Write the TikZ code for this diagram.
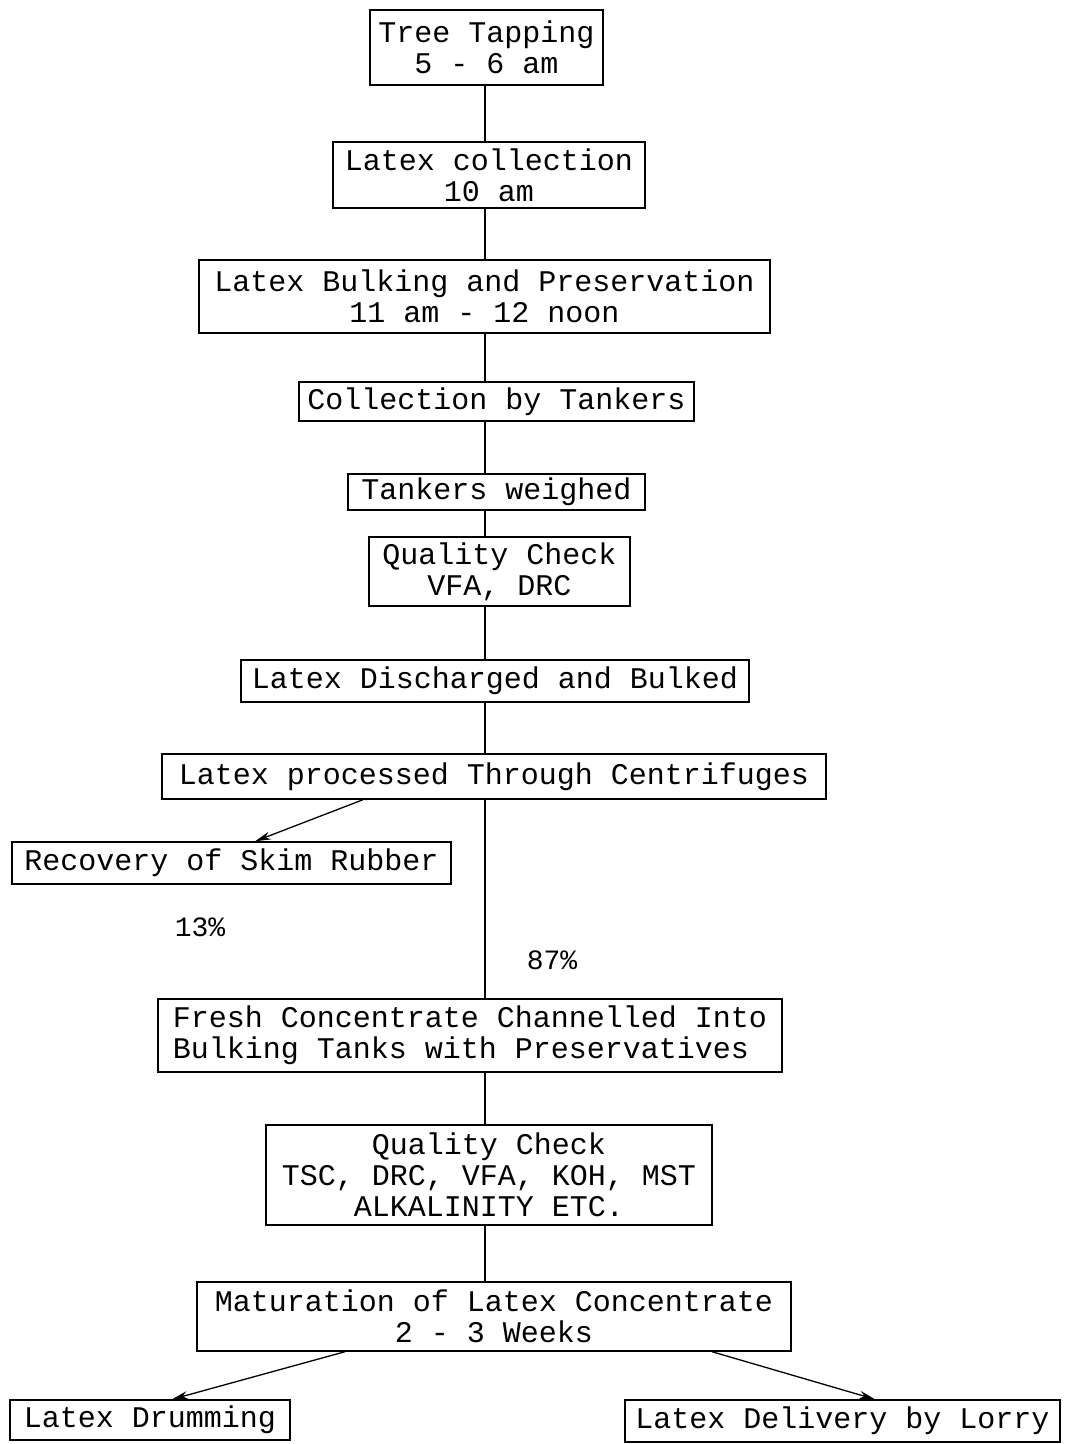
\documentclass[tikz,border=0pt]{standalone}
\usepackage{fontspec}
\setmonofont{Liberation Mono}
\usetikzlibrary{arrows.meta}
\begin{document}
\begin{tikzpicture}[x=1pt,y=-1pt,
  box/.style={draw,line width=1.4pt,inner sep=0pt,align=center,
    font=\ttfamily\fontsize{30}{31}\selectfont},
  conn/.style={line width=1.6pt},
  arr/.style={line width=1.3pt,-{Stealth[length=16pt,width=8pt]}},
  lbl/.style={font=\ttfamily\fontsize{28}{30}\selectfont,inner sep=0pt}]
\useasboundingbox (0,0) rectangle (1067,1444);
\node[box,minimum width=233pt,minimum height=75pt] (b1) at (486.5,47.5) {Tree Tapping\\5 - 6 am};
\node[box,minimum width=312pt,minimum height=66pt] (b2) at (489,175) {Latex collection\\10 am};
\node[box,minimum width=571pt,minimum height=73pt] (b3) at (484.5,296.5) {Latex Bulking and Preservation\\11 am - 12 noon};
\node[box,minimum width=395pt,minimum height=39pt] (b4) at (496.5,401.5) {Collection by Tankers};
\node[box,minimum width=297pt,minimum height=36pt] (b5) at (496.5,492) {Tankers weighed};
\node[box,minimum width=261pt,minimum height=69pt] (b6) at (499.5,571.5) {Quality Check\\VFA, DRC};
\node[box,minimum width=508pt,minimum height=42pt] (b7) at (495,681) {Latex Discharged and Bulked};
\node[box,minimum width=664pt,minimum height=45pt] (b8) at (494,776.5) {Latex processed Through Centrifuges};
\node[box,minimum width=439pt,minimum height=42pt] (b9) at (231.5,863) {Recovery of Skim Rubber};
\node[box,minimum width=624pt,minimum height=73pt,align=left] (b10) at (470,1035.5) {Fresh Concentrate Channelled Into\\Bulking Tanks with Preservatives};
\node[box,minimum width=446pt,minimum height=100pt] (b11) at (489,1175) {Quality Check\\TSC, DRC, VFA, KOH, MST\\ALKALINITY ETC.};
\node[box,minimum width=594pt,minimum height=69pt] (b12) at (494,1316.5) {Maturation of Latex Concentrate\\2 - 3 Weeks};
\node[box,minimum width=280pt,minimum height=40pt] (b13) at (150,1420) {Latex Drumming};
\node[box,minimum width=435pt,minimum height=42pt] (b14) at (842.5,1421) {Latex Delivery by Lorry};
\node[lbl] (p13) at (200,927) {13\%};
\node[lbl] (p87) at (552,960) {87\%};
\coordinate (sp) at (485,0);
\coordinate (xa) at (363,0);
\coordinate (xb) at (255,0);
\coordinate (xc) at (345,0);
\coordinate (xd) at (172,0);
\coordinate (xe) at (712,0);
\coordinate (xf) at (875,0);
\draw[conn] (b1.south -| sp) -- (b2.north -| sp);
\draw[conn] (b2.south -| sp) -- (b3.north -| sp);
\draw[conn] (b3.south -| sp) -- (b4.north -| sp);
\draw[conn] (b4.south -| sp) -- (b5.north -| sp);
\draw[conn] (b5.south -| sp) -- (b6.north -| sp);
\draw[conn] (b6.south -| sp) -- (b7.north -| sp);
\draw[conn] (b7.south -| sp) -- (b8.north -| sp);
\draw[conn] (b8.south -| sp) -- (b10.north -| sp);
\draw[conn] (b10.south -| sp) -- (b11.north -| sp);
\draw[conn] (b11.south -| sp) -- (b12.north -| sp);
\draw[arr] (b8.south -| xa) -- (b9.north -| xb);
\draw[arr] (b12.south -| xc) -- (b13.north -| xd);
\draw[arr] (b12.south -| xe) -- (b14.north -| xf);
\end{tikzpicture}
\end{document}
